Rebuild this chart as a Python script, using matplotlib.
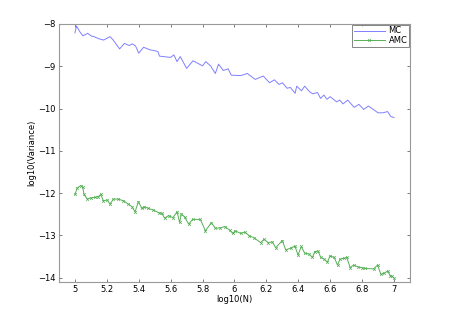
import numpy as np
import matplotlib
matplotlib.use("Agg")
import matplotlib.pyplot as plt

# ---- data ----
mc_x = [5.00, 5.01, 5.03, 5.05, 5.08, 5.10, 5.12, 5.15, 5.18, 5.22, 5.24, 5.28, 5.31, 5.34,
        5.36, 5.38, 5.40, 5.43, 5.47, 5.52, 5.53, 5.60, 5.62, 5.64, 5.66, 5.70, 5.74, 5.80,
        5.82, 5.85, 5.88, 5.90, 5.93, 5.96, 5.98, 6.04, 6.08, 6.13, 6.18, 6.22, 6.25, 6.28,
        6.30, 6.33, 6.35, 6.38, 6.39, 6.42, 6.44, 6.47, 6.49, 6.52, 6.54, 6.56, 6.58, 6.60,
        6.64, 6.66, 6.68, 6.71, 6.75, 6.78, 6.81, 6.84, 6.87, 6.90, 6.93, 6.96, 6.98, 7.00]
mc_y = [-8.21, -8.05, -8.18, -8.28, -8.22, -8.28, -8.30, -8.35, -8.38, -8.30, -8.38, -8.59, -8.46, -8.51,
        -8.47, -8.52, -8.69, -8.55, -8.61, -8.65, -8.76, -8.79, -8.73, -8.89, -8.77, -9.05, -8.87, -8.99,
        -8.89, -8.99, -9.17, -8.95, -9.10, -9.06, -9.21, -9.22, -9.17, -9.31, -9.23, -9.39, -9.32, -9.43,
        -9.39, -9.52, -9.50, -9.64, -9.47, -9.58, -9.47, -9.60, -9.65, -9.62, -9.76, -9.68, -9.78, -9.72,
        -9.84, -9.80, -9.89, -9.80, -9.97, -9.90, -10.02, -9.94, -10.02, -10.10, -10.10, -10.07, -10.19, -10.21]

amc_x = [5.00, 5.014, 5.036, 5.048, 5.057, 5.077, 5.099, 5.126, 5.147, 5.162, 5.178, 5.203, 5.220, 5.241,
         5.272, 5.304, 5.335, 5.357, 5.377, 5.398, 5.419, 5.434, 5.461, 5.492, 5.524, 5.545, 5.562, 5.587,
         5.614, 5.640, 5.656, 5.667, 5.687, 5.713, 5.738, 5.786, 5.818, 5.855, 5.881, 5.912, 5.939, 5.969,
         5.989, 6.006, 6.038, 6.065, 6.094, 6.121, 6.164, 6.185, 6.212, 6.237, 6.258, 6.300, 6.321, 6.352,
         6.379, 6.398, 6.419, 6.440, 6.467, 6.489, 6.503, 6.524, 6.541, 6.562, 6.583, 6.599, 6.625, 6.646,
         6.662, 6.687, 6.704, 6.725, 6.747, 6.772, 6.797, 6.818, 6.872, 6.897, 6.918, 6.939, 6.960, 6.977,
         6.990, 7.000]
amc_y = [-12.03, -11.88, -11.82, -11.85, -12.03, -12.14, -12.11, -12.10, -12.08, -12.03, -12.18, -12.16, -12.26, -12.14,
         -12.14, -12.18, -12.26, -12.32, -12.44, -12.20, -12.36, -12.32, -12.36, -12.40, -12.46, -12.48, -12.59, -12.53,
         -12.58, -12.44, -12.69, -12.49, -12.56, -12.73, -12.62, -12.62, -12.89, -12.70, -12.83, -12.82, -12.79, -12.87,
         -12.95, -12.89, -12.95, -12.92, -13.01, -13.05, -13.17, -13.09, -13.17, -13.15, -13.29, -13.12, -13.34, -13.30,
         -13.25, -13.46, -13.26, -13.42, -13.44, -13.52, -13.38, -13.37, -13.52, -13.56, -13.63, -13.48, -13.52, -13.70,
         -13.56, -13.54, -13.52, -13.76, -13.70, -13.74, -13.76, -13.78, -13.79, -13.70, -13.92, -13.89, -13.84, -13.95,
         -13.97, -14.01]

xticks = [5, 5.2, 5.4, 5.6, 5.8, 6, 6.2, 6.4, 6.6, 6.8, 7]
yticks = [-14, -13, -12, -11, -10, -9, -8]

fig = plt.figure(figsize=(4.52, 3.16), dpi=100)
ax = fig.add_axes([0.1305, 0.1076, 0.7765, 0.8165])

ax.plot(mc_x, mc_y, color="#8080ff", lw=0.7, label="MC")
ax.plot(amc_x, amc_y, color="#55b055", lw=0.7, marker="x", ms=2.0, mew=0.5, label="AMC")

ax.set_xlim(4.9, 7.1)
ax.set_ylim(-14.1, -8)
ax.set_xticks(xticks)
ax.set_xticklabels([f"{t:g}" for t in xticks])
ax.set_yticks(yticks)
ax.tick_params(direction="in", length=2, width=0.6, labelsize=6, color="#666666",
               top=True, right=True, pad=2.5)
for s in ax.spines.values():
    s.set_color("#999999")
    s.set_linewidth(0.8)

ax.set_xlabel("log10(N)", fontsize=6, labelpad=0.5)
ax.set_ylabel("log10(Variance)", fontsize=6, labelpad=1)

leg = ax.legend(loc="upper right", fontsize=6, frameon=True, fancybox=False, numpoints=1,
                borderaxespad=0.15, handlelength=3.8, handletextpad=0.4,
                borderpad=0.15, labelspacing=0.1)
leg.get_frame().set_edgecolor("#666666")
leg.get_frame().set_linewidth(0.7)

fig.savefig("out.png", dpi=100)
